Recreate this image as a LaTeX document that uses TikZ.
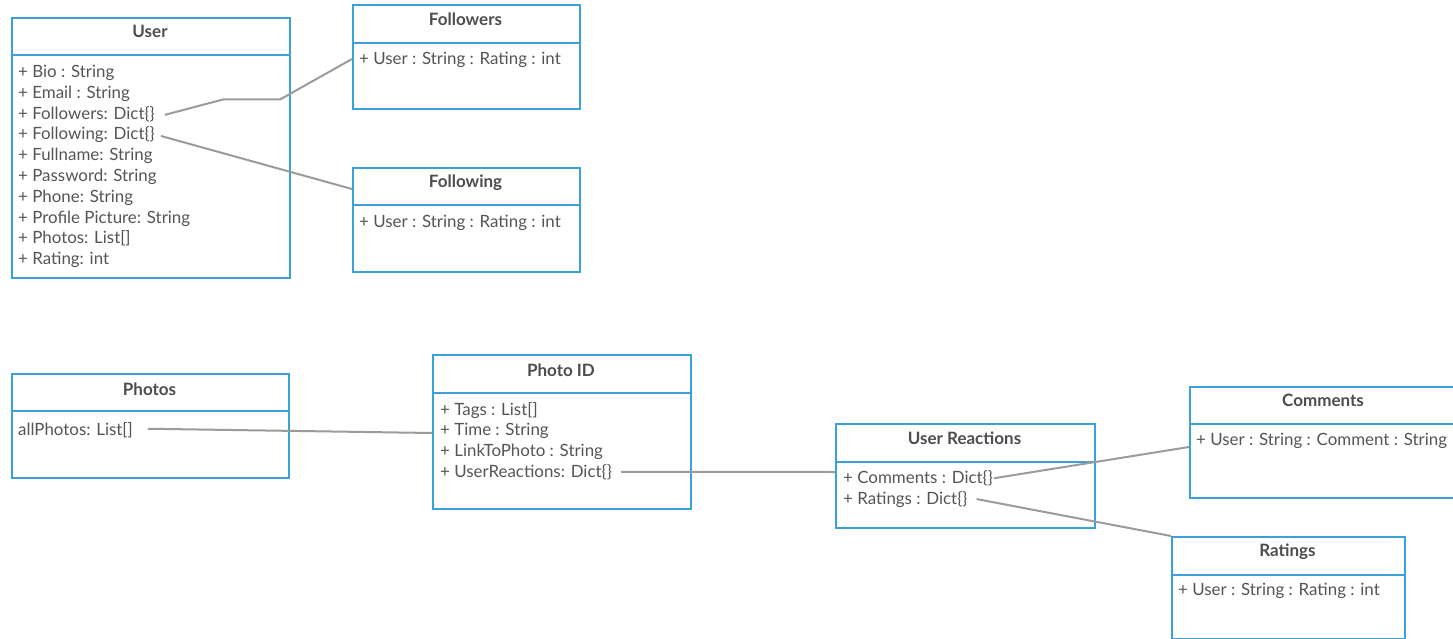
\documentclass[tikz,border=0pt]{standalone}
\usepackage{fontspec}
\setmainfont{Lato}
\definecolor{boxblue}{RGB}{59,160,219}
\definecolor{conngray}{RGB}{155,155,155}
\definecolor{txt}{RGB}{85,85,85}
\definecolor{ttl}{RGB}{77,77,77}
\tikzset{
  umlbox/.style={draw=boxblue, line width=2pt, fill=white, anchor=north west, inner sep=0pt, rectangle},
  divider/.style={draw=boxblue, line width=2pt},
  title/.style={anchor=base, inner sep=0pt, text=ttl, font=\fontsize{17}{20}\selectfont\bfseries},
  attr/.style={anchor=base west, inner sep=0pt, text=txt, font=\fontsize{16.9}{20}\selectfont},
  conn/.style={draw=conngray, line width=2pt, line join=round}
}
\begin{document}
\begin{tikzpicture}[x=1pt,y=-1pt]
\clip (0,0) rectangle (1453,639);
\fill[white] (0,0) rectangle (1453,639);

% User
\node[umlbox, minimum width=278pt, minimum height=260pt] (user) at (11,17) {};
\draw[divider] (user.west |- 0,55) -- (user.east |- 0,55);
\node[title] (tUser) at (150,38) {User};
\node[attr] (uBio) at (18,77.5) {+ Bio : String};
\node[attr] (uEmail) at (18,98.3) {+ Email : String};
\node[attr] (uFollowers) at (18,119.1) {+ Followers: Dict\{\}};
\node[attr] (uFollowing) at (18,139.9) {+ Following: Dict\{\}};
\node[attr] (uFullname) at (18,160.7) {+ Fullname: String};
\node[attr] (uPassword) at (18,181.5) {+ Password: String};
\node[attr] (uPhone) at (18,202.3) {+ Phone: String};
\node[attr] (uPicture) at (18,223.1) {+ Profile Picture: String};
\node[attr] (uPhotos) at (18,243.9) {+ Photos: List[]};
\node[attr] (uRating) at (18,264.7) {+ Rating: int};

% Followers
\node[umlbox, minimum width=227pt, minimum height=104pt] (followers) at (352,4) {};
\draw[divider] (followers.west |- 0,43) -- (followers.east |- 0,43);
\node[title] (tFollowers) at (465.5,26) {Followers};
\node[attr] (fUser) at (359,65) {+ User : String : Rating : int};

% Following
\node[umlbox, minimum width=227pt, minimum height=104pt] (following) at (352,167) {};
\draw[divider] (following.west |- 0,205) -- (following.east |- 0,205);
\node[title] (tFollowing) at (465.5,188) {Following};
\node[attr] (gUser) at (359,227) {+ User : String : Rating : int};

% Photos
\node[umlbox, minimum width=277pt, minimum height=104pt] (photos) at (11,373) {};
\draw[divider] (photos.west |- 0,411) -- (photos.east |- 0,411);
\node[title] (tPhotos) at (149.5,395) {Photos};
\node[attr] (pAll) at (18,435) {allPhotos: List[]};

% Photo ID
\node[umlbox, minimum width=258pt, minimum height=154pt] (photoid) at (432,354) {};
\draw[divider] (photoid.west |- 0,393) -- (photoid.east |- 0,393);
\node[title] (tPhotoID) at (561,376) {Photo ID};
\node[attr] (iTags) at (440,415) {+ Tags : List[]};
\node[attr] (iTime) at (440,435.7) {+ Time : String};
\node[attr] (iLink) at (440,456.4) {+ LinkToPhoto : String};
\node[attr] (iReact) at (440,477.1) {+ UserReactions: Dict\{\}};

% User Reactions
\node[umlbox, minimum width=259pt, minimum height=104pt] (reactions) at (835,423) {};
\draw[divider] (reactions.west |- 0,462) -- (reactions.east |- 0,462);
\node[title] (tReactions) at (964.5,444) {User Reactions};
\node[attr] (rComments) at (843,483.5) {+ Comments : Dict\{\}};
\node[attr] (rRatings) at (843,504) {+ Ratings : Dict\{\}};

% Comments
\node[umlbox, minimum width=268pt, minimum height=111pt] (comments) at (1189,386) {};
\draw[divider] (comments.west |- 0,424) -- (comments.east |- 0,424);
\node[title] (tComments) at (1323,406.7) {Comments};
\node[attr] (cUser) at (1196,445) {+ User : String : Comment : String};

% Ratings
\node[umlbox, minimum width=233pt, minimum height=102pt] (ratings) at (1171,536) {};
\draw[divider] (ratings.west |- 0,575) -- (ratings.east |- 0,575);
\node[title] (tRatings) at (1287.5,556.7) {Ratings};
\node[attr] (tUserR) at (1178,595) {+ User : String : Rating : int};

% connectors
\coordinate (k1) at (223,99.5);
\coordinate (k2) at (280,99.5);
\draw[conn] ([xshift=10pt,yshift=-1pt]uFollowers.east) -- (k1) -- (k2) -- (followers.west |- 0,59);
\draw[conn] ([xshift=6pt,yshift=-1pt]uFollowing.east) -- (following.west |- 0,189);
\draw[conn] ([xshift=15pt,yshift=1pt]pAll.east) -- (photoid.west |- 0,433);
\draw[conn] ([xshift=9pt]iReact.east) -- (reactions.west |- 0,472);
\draw[conn] ([xshift=1pt]rComments.east) -- (comments.west |- 0,447);
\draw[conn] ([xshift=9pt]rRatings.east) -- (ratings.north west);
\end{tikzpicture}
\end{document}
